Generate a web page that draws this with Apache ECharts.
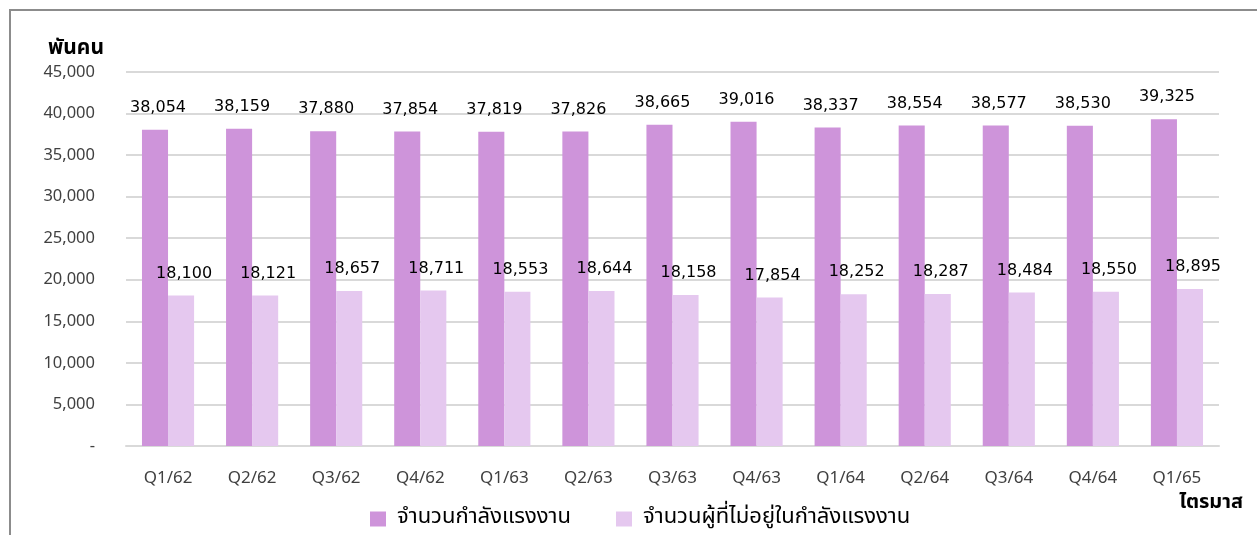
<!DOCTYPE html>
<html><head><meta charset="utf-8">
<script src="https://cdn.jsdelivr.net/npm/echarts@6/dist/echarts.min.js"></script>
<style>html,body{margin:0;padding:0;background:#fff}#c{width:1257px;height:535px}</style>
</head><body><div id="c"></div>
<script>
const categories = ['Q1/62','Q2/62','Q3/62','Q4/62','Q1/63','Q2/63','Q3/63','Q4/63','Q1/64','Q2/64','Q3/64','Q4/64','Q1/65'];
const labourForce = [38054,38159,37880,37854,37819,37826,38665,39016,38337,38554,38577,38530,39325];
const notInLabourForce = [18100,18121,18657,18711,18553,18644,18158,17854,18252,18287,18484,18550,18895];
const seriesNames = ['จำนวนกำลังแรงงาน','จำนวนผู้ที่ไม่อยู่ในกำลังแรงงาน'];
const yTicks = [0,5000,10000,15000,20000,25000,30000,35000,40000,45000];

const fmt = v => v === 0 ? '-' : v.toLocaleString('en-US');
const chart = echarts.init(document.getElementById('c'));
const lbl = {show:true, position:'top', distance:14, offset:[3,0], color:'#000', fontSize:16, fontFamily:'DejaVu Sans, Tahoma, sans-serif', formatter: p => fmt(p.value)};
const thai = 'Noto Sans Thai, Noto Sans, sans-serif';
chart.setOption({
  animation:false,
  graphic:[{type:'rect', shape:{x:10,y:10,width:1250,height:540}, style:{fill:'none', stroke:'#8c8c8c', lineWidth:2}}],
  grid:{left:126, right:38, top:72, bottom:89},
  legend:{bottom:0, left:365, itemWidth:16, itemHeight:15, itemGap:45, icon:'rect',
    textStyle:{fontSize:22, color:'#000', fontFamily:thai, padding:[0,0,0,6]}},
  xAxis:{type:'category', data:categories,
    name:'ไตรมาส', nameLocation:'end', nameGap:0,
    nameTextStyle:{fontWeight:'bold', fontSize:20, color:'#000', align:'right', verticalAlign:'top', padding:[48,-24,0,0], fontFamily:thai},
    axisLine:{lineStyle:{color:'#d9d9d9', width:2}}, axisTick:{show:false},
    axisLabel:{fontSize:17, color:'#404040', margin:24, fontFamily:'Noto Sans, sans-serif'}},
  yAxis:{type:'value', min:0, max:45000, interval:5000,
    name:'พันคน', nameLocation:'end', nameGap:12,
    nameTextStyle:{fontWeight:'bold', fontSize:21, color:'#000', align:'right', padding:[0,22,0,0], fontFamily:thai},
    axisLine:{show:false}, axisTick:{show:false},
    splitLine:{lineStyle:{color:'#d9d9d9', width:2}},
    axisLabel:{fontSize:16.5, color:'#404040', margin:31, formatter: v => fmt(v), fontFamily:'Noto Sans, sans-serif'}},
  series:[
    {name:seriesNames[0], type:'bar', data:labourForce, barGap:'0%', barCategoryGap:'38%', itemStyle:{color:'#CE94DA'}, label:lbl},
    {name:seriesNames[1], type:'bar', data:notInLabourForce, itemStyle:{color:'#E5C8EF'}, label:lbl}
  ]
});
</script></body></html>
